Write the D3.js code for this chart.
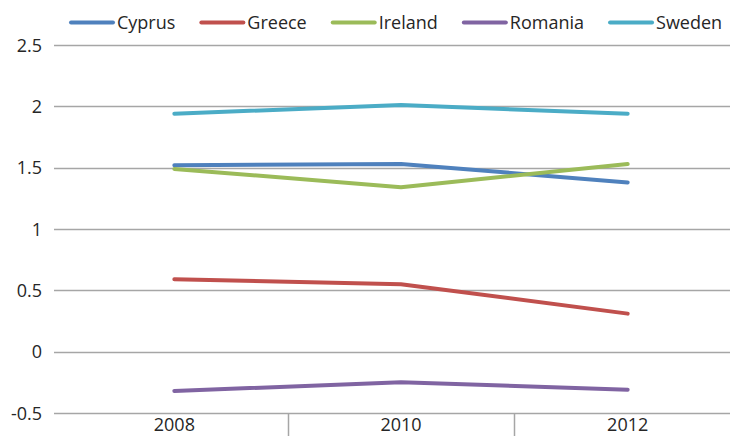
<!DOCTYPE html>
<html>
<head>
<meta charset="utf-8">
<script src="https://cdn.jsdelivr.net/npm/d3@7"></script>
<style>
  html, body { margin: 0; padding: 0; background: #fff; }
  svg text { font-family: "Open Sans", "Liberation Sans", sans-serif; fill: #262626; }
</style>
</head>
<body>
<svg id="chart" width="730" height="436"></svg>
<script>
// Data
const years = ["2008", "2010", "2012"];
const countries = ["Cyprus", "Greece", "Ireland", "Romania", "Sweden"];
const cyprus  = [1.52, 1.53, 1.38];
const greece  = [0.59, 0.55, 0.31];
const ireland = [1.49, 1.34, 1.53];
const romania = [-0.32, -0.25, -0.31];
const sweden  = [1.94, 2.01, 1.94];
const yTicks = [-0.5, 0, 0.5, 1, 1.5, 2, 2.5];
const colors = ["#4F81BD", "#C0504D", "#9BBB59", "#8064A2", "#4BACC6"];

const seriesValues = [cyprus, greece, ireland, romania, sweden];
const series = countries.map((name, i) => ({
  name, color: colors[i],
  points: years.map((yr, j) => ({ year: yr, value: seriesValues[i][j] }))
}));

const svg = d3.select("#chart");
const fontFamily = "'Open Sans', 'Liberation Sans', sans-serif";
const fontSize = 18;
const gridLeft = 54, gridRight = 730;

const x = d3.scaleBand().domain(years).range([61, 741]);
const y = d3.scaleLinear().domain([-0.5, 2.5]).range([413, 45]);

// Horizontal gridlines
svg.append("g").selectAll("line").data(yTicks).join("line")
  .attr("x1", gridLeft).attr("x2", gridRight)
  .attr("y1", d => Math.round(y(d)) + 0.5).attr("y2", d => Math.round(y(d)) + 0.5)
  .attr("stroke", "#A6A6A6").attr("stroke-width", 1.5);

// Y axis labels
const yAxis = d3.axisLeft(y).tickValues(yTicks).tickSize(0).tickPadding(0)
  .tickFormat(d => String(d));
const gy = svg.append("g").attr("transform", "translate(42,0)").call(yAxis);
gy.select(".domain").remove();
gy.selectAll("text").attr("font-size", fontSize).attr("dy", "0.35em")
  .style("fill", "#262626").style("font-family", fontFamily);

// X axis: category labels and separators between categories
const xAxis = d3.axisBottom(x).tickSize(0).tickPadding(0);
const gx = svg.append("g").attr("transform", "translate(0,413)").call(xAxis);
gx.select(".domain").remove();
gx.selectAll("text").attr("font-size", fontSize).attr("dy", "0").attr("y", 18)
  .style("fill", "#262626").style("font-family", fontFamily);
svg.append("g").selectAll("line").data(years.slice(1)).join("line")
  .attr("x1", d => Math.round(x(d)) + 0.5).attr("x2", d => Math.round(x(d)) + 0.5)
  .attr("y1", 413).attr("y2", 436)
  .attr("stroke", "#A6A6A6").attr("stroke-width", 1.5);

// Lines
const line = d3.line()
  .x(d => x(d.year) + x.bandwidth() / 2)
  .y(d => y(d.value));
svg.append("g").selectAll("path").data(series).join("path")
  .attr("d", d => line(d.points))
  .attr("fill", "none")
  .attr("stroke", d => d.color)
  .attr("stroke-width", 4)
  .attr("stroke-linecap", "round")
  .attr("stroke-linejoin", "round");

// Legend: swatch + label, laid out left to right
const legend = svg.append("g").attr("transform", "translate(70,22.5)");
let cursor = 0;
series.forEach(s => {
  const item = legend.append("g").attr("transform", `translate(${cursor},0)`);
  item.append("line").attr("x1", 1).attr("x2", 43).attr("y1", 0).attr("y2", 0)
    .attr("stroke", s.color).attr("stroke-width", 4).attr("stroke-linecap", "round");
  const t = item.append("text").attr("x", 47).attr("dy", "0.35em")
    .attr("font-size", fontSize).style("font-family", fontFamily).text(s.name);
  cursor += 47 + t.node().getComputedTextLength() + 25;
});
</script>
</body>
</html>
